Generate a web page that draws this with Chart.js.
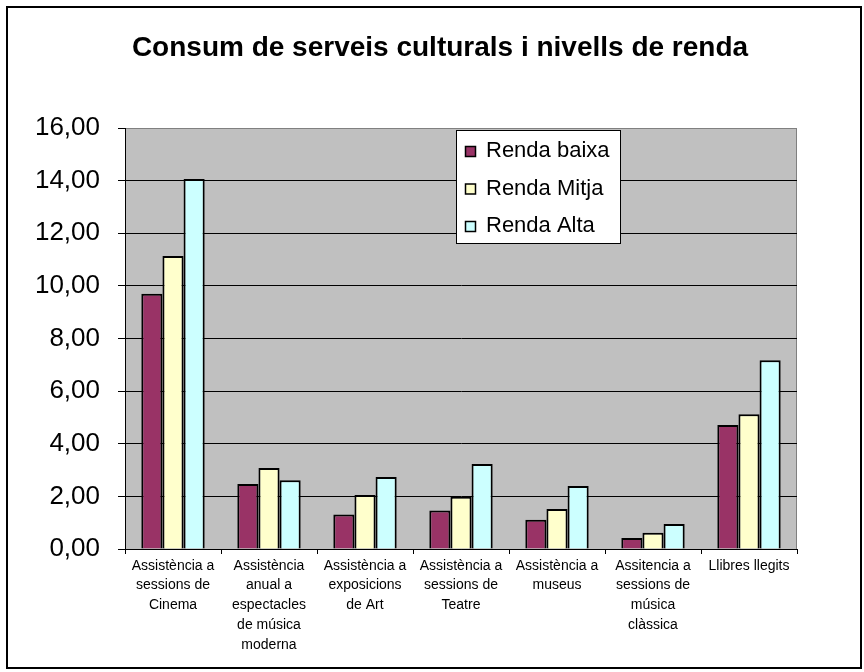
<!DOCTYPE html>
<html>
<head>
<meta charset="utf-8">
<script src="https://cdn.jsdelivr.net/npm/chart.js@4/dist/chart.umd.min.js"></script>
<style>
  body { margin: 0; background: #fff; }
  canvas { display: block; }
</style>
</head>
<body>
<canvas id="bar-chart" width="864" height="672"></canvas>
<script>
var titleText = 'Consum de serveis culturals i nivells de renda';

// categories, already split into the lines they show on the axis
var categories = [
  ['Assistència a', 'sessions de', 'Cinema'],
  ['Assistència', 'anual a', 'espectacles', 'de música', 'moderna'],
  ['Assistència a', 'exposicions', 'de Art'],
  ['Assistència a', 'sessions de', 'Teatre'],
  ['Assistència a', 'museus'],
  ['Assitencia a', 'sessions de', 'música', 'clàssica'],
  ['Llibres llegits']
];

var seriesNames = ['Renda baixa', 'Renda Mitja', 'Renda Alta'];
var rendaBaixa = [9.70, 2.47, 1.31, 1.46, 1.11, 0.42, 4.71];
var rendaMitja = [11.14, 3.08, 2.05, 1.99, 1.52, 0.62, 5.12];
var rendaAlta  = [14.06, 2.61, 2.74, 3.23, 2.39, 0.95, 7.17];
var seriesColors = ['#993366', '#FFFFCC', '#CCFFFF'];

var yMin = 0, yMax = 16, yStep = 2;

var FONT = '"Liberation Sans", Arial, sans-serif';

// grey plot area, outer frame, title and the boxed legend
var excelLook = {
  id: 'excelLook',
  beforeDraw: function(chart) {
    var ctx = chart.ctx, a = chart.chartArea;
    ctx.save();
    ctx.fillStyle = '#fff';
    ctx.fillRect(0, 0, chart.width, chart.height);
    ctx.fillStyle = '#C0C0C0';
    ctx.fillRect(a.left, a.top, a.right - a.left, a.bottom - a.top);
    ctx.strokeStyle = '#808080';
    ctx.lineWidth = 1;
    ctx.strokeRect(a.left + 0.5, a.top + 0.5, a.right - a.left - 1, a.bottom - a.top);
    ctx.restore();
  },
  afterDraw: function(chart) {
    var ctx = chart.ctx;
    ctx.save();
    // outer frame
    ctx.strokeStyle = '#000';
    ctx.lineWidth = 2;
    ctx.strokeRect(7, 7, 854, 661);
    // title
    ctx.fillStyle = '#000';
    ctx.font = 'bold 28px ' + FONT;
    ctx.textAlign = 'center';
    ctx.textBaseline = 'middle';
    ctx.fillText(titleText, 440, 48);
    // legend
    var lx = 456, ly = 130, lw = 164, lh = 113;
    ctx.fillStyle = '#fff';
    ctx.fillRect(lx, ly, lw, lh);
    ctx.lineWidth = 1;
    ctx.strokeRect(lx + 0.5, ly + 0.5, lw, lh);
    ctx.font = '22px ' + FONT;
    ctx.textAlign = 'left';
    chart.data.datasets.forEach(function(ds, i) {
      var cy = ly + 20 + i * 37.5;
      ctx.fillStyle = ds.backgroundColor;
      ctx.fillRect(lx + 9.5, cy - 3.5, 10, 10);
      ctx.strokeStyle = '#000';
      ctx.lineWidth = 1.5;
      ctx.strokeRect(lx + 9.5, cy - 3.5, 10, 10);
      ctx.fillStyle = '#000';
      ctx.fillText(ds.label, lx + 30, cy + 1);
    });
    ctx.restore();
  }
};

var config = {
  type: 'bar',
  data: {
    labels: categories,
    datasets: [{
        label: seriesNames[0],
        data: rendaBaixa,
        backgroundColor: seriesColors[0]
      }, {
        label: seriesNames[1],
        data: rendaMitja,
        backgroundColor: seriesColors[1]
      }, {
        label: seriesNames[2],
        data: rendaAlta,
        backgroundColor: seriesColors[2]
      }
    ]
  },
  options: {
    responsive: false,
    animation: false,
    layout: { padding: { top: 128, right: 67, bottom: 0, left: 0 } },
    datasets: {
      bar: {
        borderColor: '#000',
        borderWidth: 2,
        categoryPercentage: 0.66,
        barPercentage: 1.0
      }
    },
    plugins: {
      legend: { display: false },
      title: { display: false },
      tooltip: { enabled: false }
    },
    scales: {
      x: {
        afterFit: function(scale) { scale.height = 123; },
        grid: {
          offset: true,
          drawOnChartArea: false,
          drawTicks: true,
          tickLength: 5,
          color: '#000'
        },
        border: { display: true, color: '#000', width: 1 },
        ticks: {
          color: '#000',
          padding: 2,
          maxRotation: 0,
          autoSkip: false,
          font: { family: FONT, size: 14, lineHeight: 1.41 }
        }
      },
      y: {
        min: yMin,
        max: yMax,
        afterFit: function(scale) { scale.width = 125; },
        grid: {
          color: function(c) { return c.tick && c.tick.value === yMax ? '#808080' : '#000'; },
          tickColor: '#000',
          tickLength: 7,
          drawTicks: true
        },
        border: { display: true, color: '#000', width: 1 },
        ticks: {
          stepSize: yStep,
          color: '#000',
          padding: 18,
          font: { family: FONT, size: 26 },
          callback: function(v) { return v.toFixed(2).replace('.', ','); }
        }
      }
    }
  },
  plugins: [excelLook]
};

var ctx = document.getElementById('bar-chart').getContext('2d');
var mychart = new Chart(ctx, config);
</script>
</body>
</html>
